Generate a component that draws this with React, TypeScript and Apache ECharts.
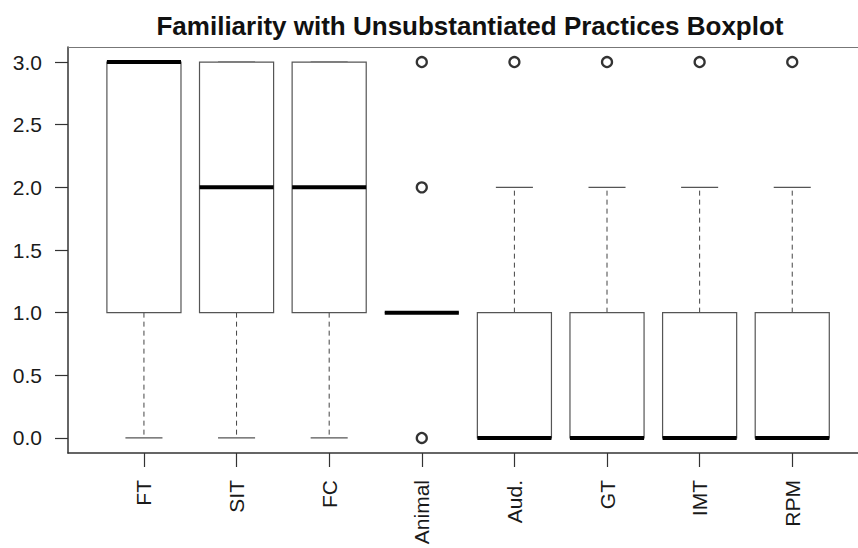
import React, { useEffect, useRef } from "react";
import * as echarts from "echarts";

// Practice categories along the x axis
const categories = ["FT", "SIT", "FC", "Animal", "Aud.", "GT", "IMT", "RPM"];

// Five-number summaries per category
const lowerWhisker = [0, 0, 0, 1, 0, 0, 0, 0];
const firstQuartile = [1, 1, 1, 1, 0, 0, 0, 0];
const medians = [3, 2, 2, 1, 0, 0, 0, 0];
const thirdQuartile = [3, 3, 3, 1, 1, 1, 1, 1];
const upperWhisker = [3, 3, 3, 1, 2, 2, 2, 2];

// Outlying responses: [category, value]
const outlierCategories = ["Animal", "Animal", "Animal", "Aud.", "GT", "IMT", "RPM"];
const outlierValues = [0, 2, 3, 3, 3, 3, 3];

const yTicks = [0, 0.5, 1, 1.5, 2, 2.5, 3];

const FONT = "'Liberation Sans', Arial, Helvetica, sans-serif";

export default function App() {
  const ref = useRef<HTMLDivElement>(null);

  useEffect(() => {
    if (!ref.current) return;
    const chart = echarts.init(ref.current, undefined, { renderer: "svg" });

    const positions = categories.map((_, i) => i + 1);
    const boxData = categories.map((_, i) => [
      positions[i],
      lowerWhisker[i],
      firstQuartile[i],
      medians[i],
      thirdQuartile[i],
      upperWhisker[i],
    ]);
    const outlierData = outlierCategories.map((c, i) => [
      categories.indexOf(c) + 1,
      outlierValues[i],
    ]);

    const renderBox = (params: any, api: any) => {
      const x = api.value(0);
      const lo = api.coord([x, api.value(1)]);
      const q1 = api.coord([x, api.value(2)]);
      const med = api.coord([x, api.value(3)]);
      const q3 = api.coord([x, api.value(4)]);
      const hi = api.coord([x, api.value(5)]);
      const boxW = api.size([0.8, 0])[0];
      const capW = boxW / 2;
      const cx = q1[0];
      const boxStroke = "#555";
      return {
        type: "group",
        children: [
          {
            type: "line",
            shape: { x1: cx, y1: q3[1], x2: cx, y2: hi[1] },
            style: { stroke: "#444", lineWidth: 1, lineDash: [5, 4] },
          },
          {
            type: "line",
            shape: { x1: cx, y1: q1[1], x2: cx, y2: lo[1] },
            style: { stroke: "#444", lineWidth: 1, lineDash: [5, 4] },
          },
          {
            type: "line",
            shape: { x1: cx - capW / 2, y1: hi[1], x2: cx + capW / 2, y2: hi[1] },
            style: { stroke: boxStroke, lineWidth: 1.2 },
          },
          {
            type: "line",
            shape: { x1: cx - capW / 2, y1: lo[1], x2: cx + capW / 2, y2: lo[1] },
            style: { stroke: boxStroke, lineWidth: 1.2 },
          },
          {
            type: "rect",
            shape: { x: cx - boxW / 2, y: q3[1], width: boxW, height: q1[1] - q3[1] },
            style: { fill: "#fff", stroke: boxStroke, lineWidth: 1.2 },
          },
          {
            type: "line",
            shape: { x1: cx - boxW / 2, y1: med[1], x2: cx + boxW / 2, y2: med[1] },
            style: { stroke: "#000", lineWidth: 4 },
          },
        ],
      };
    };

    const xMin = 0.18;
    const xMax = 8.71;

    chart.setOption({
      animation: false,
      backgroundColor: "#fff",
      title: {
        text: "Familiarity with Unsubstantiated Practices Boxplot",
        left: 465,
        top: 8,
        textAlign: "center",
        textStyle: {
          fontFamily: FONT,
          fontWeight: "bold",
          fontSize: 26,
          color: "#111",
        },
      },
      grid: {
        left: 68,
        right: 0,
        top: 47,
        bottom: 95,
      },
      xAxis: [
        {
          type: "value",
          min: xMin,
          max: xMax,
          splitLine: { show: false },
          axisLine: { show: true, onZero: false, lineStyle: { color: "#333", width: 1.5 } },
          axisTick: {
            show: true,
            length: 14,
            customValues: positions,
            lineStyle: { color: "#333", width: 1.2 },
          },
          axisLabel: {
            customValues: positions,
            rotate: 90,
            margin: 27,
            fontFamily: FONT,
            fontSize: 21,
            color: "#1a1a1a",
            formatter: (v: number) => categories[Math.round(v) - 1] ?? "",
          },
        },
        {
          // top edge of the plot frame
          type: "value",
          position: "top",
          min: xMin,
          max: xMax,
          splitLine: { show: false },
          axisTick: { show: false },
          axisLabel: { show: false },
          axisLine: { show: true, onZero: false, lineStyle: { color: "#777", width: 1.2 } },
        },
      ],
      yAxis: {
        type: "value",
        min: -0.12,
        max: 3.12,
        splitLine: { show: false },
        axisLine: { show: true, onZero: false, lineStyle: { color: "#333", width: 1.5 } },
        axisTick: {
          show: true,
          length: 13,
          customValues: yTicks,
          lineStyle: { color: "#333", width: 1.2 },
        },
        axisLabel: {
          customValues: yTicks,
          margin: 26,
          fontFamily: FONT,
          fontSize: 21,
          color: "#1a1a1a",
          formatter: (v: number) => v.toFixed(1),
        },
      },
      series: [
        {
          type: "custom",
          renderItem: renderBox,
          data: boxData,
          encode: { x: 0, y: [1, 2, 3, 4, 5] },
          z: 2,
        },
        {
          type: "scatter",
          data: outlierData,
          symbol: "circle",
          symbolSize: 10,
          itemStyle: { color: "rgba(0,0,0,0)", borderColor: "#000", borderWidth: 2.3 },
          z: 3,
        },
      ],
    });

    return () => chart.dispose();
  }, []);

  return (
    <div
      ref={ref}
      style={{ position: "absolute", left: 0, top: 0, width: 858, height: 548 }}
    />
  );
}
